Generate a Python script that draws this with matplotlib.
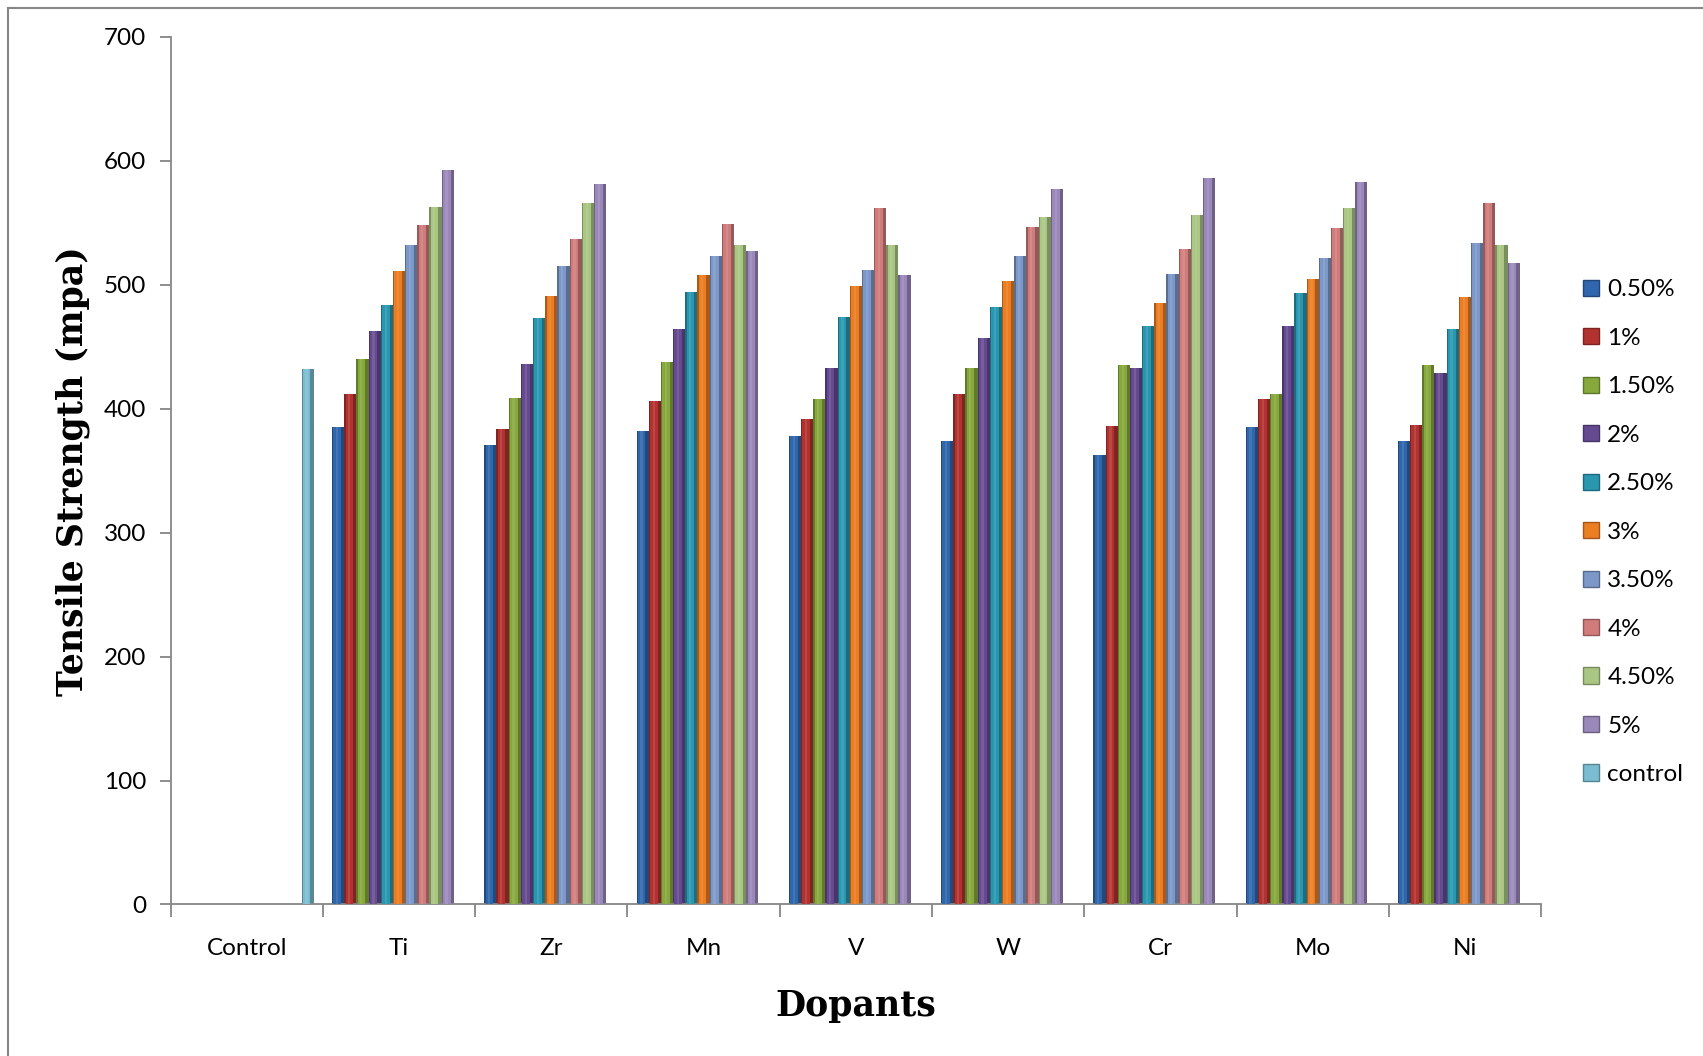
import numpy as np
import matplotlib
matplotlib.use("Agg")
import matplotlib.pyplot as plt
from matplotlib.lines import Line2D
from matplotlib.patches import Patch

categories = ["Control", "Ti", "Zr", "Mn", "V", "W", "Cr", "Mo", "Ni"]
series = ["0.50%", "1%", "1.50%", "2%", "2.50%", "3%", "3.50%", "4%", "4.50%", "5%", "control"]

# values per dopant, ordered 0.5% .. 5%
ti = [385, 412, 440, 463, 484, 511, 532, 548, 563, 593]
zr = [371, 384, 409, 436, 473, 491, 515, 537, 566, 581]
mn = [382, 406, 438, 464, 494, 508, 523, 549, 532, 527]
v = [378, 392, 408, 433, 474, 499, 512, 562, 532, 508]
w = [374, 412, 433, 457, 482, 503, 523, 547, 555, 577]
cr = [363, 386, 435, 433, 467, 485, 509, 529, 556, 586]
mo = [385, 408, 412, 467, 493, 505, 522, 546, 562, 583]
ni = [374, 387, 435, 429, 464, 490, 534, 566, 532, 518]
control_value = 432

colors = ["#2F66AC", "#B23230", "#86A83C", "#664A91", "#2A97B1", "#EB7D22",
          "#7C98C9", "#D07C7B", "#AAC683", "#9A88BA", "#7BBCD2"]


def shade(c, f):
    rgb = np.array(matplotlib.colors.to_rgb(c))
    if f < 1:
        return tuple(rgb * f)
    return tuple(rgb + (1 - rgb) * (f - 1))


dopant_rows = [ti, zr, mn, v, w, cr, mo, ni]
table = np.full((len(series), len(categories)), np.nan)
for i, row in enumerate(dopant_rows):
    for j, val in enumerate(row):
        table[j, i + 1] = val
table[10, 0] = control_value

fig = plt.figure(figsize=(17.03, 10.56), dpi=100)
ax = fig.add_axes([0.1002, 0.1435, 0.9049 - 0.1002, 0.965 - 0.1435])

bw = 0.08
x = np.arange(len(categories))
for j, name in enumerate(series):
    pos = x - 0.4 + j * bw
    vals = table[j]
    ax.bar(pos, vals, width=bw, color=shade(colors[j], 0.72),
           edgecolor="none", zorder=2)
    ax.bar(pos - bw * 0.08, vals, width=bw * 0.62, color=colors[j],
           edgecolor="none", zorder=3)
    ax.bar(pos - bw * 0.1, vals, width=bw * 0.18, color=shade(colors[j], 1.18),
           edgecolor="none", alpha=0.6, zorder=4)

ax.set_xlim(-0.5, len(categories) - 0.5)
ax.set_ylim(0, 700)
ax.set_yticks(np.arange(0, 701, 100))
ax.set_xticks(np.arange(-0.5, len(categories), 1.0))
ax.set_xticklabels([])
ax.set_xticks(x, minor=True)
ax.set_xticklabels(categories, minor=True)

gray = "#868686"
for s in ["top", "right"]:
    ax.spines[s].set_visible(False)
for s in ["left", "bottom"]:
    ax.spines[s].set_color(gray)
    ax.spines[s].set_linewidth(1.3)

ax.tick_params(axis="y", direction="out", length=8, width=1.3, color=gray,
               labelsize=17.5, pad=9.5)
ax.tick_params(axis="x", which="major", direction="out", length=9, width=1.3,
               color=gray)
ax.tick_params(axis="x", which="minor", length=0, labelsize=17.5, pad=24)
for lab in ax.get_yticklabels() + ax.get_xticklabels(minor=True):
    lab.set_family("Lato")

ax.set_ylabel("Tensile Strength (mpa)", family="DejaVu Serif", fontweight="bold",
              fontsize=25, labelpad=10)
ax.set_xlabel("Dopants", family="DejaVu Serif", fontweight="bold",
              fontsize=25, labelpad=22)

handles = [Patch(facecolor=c, edgecolor=shade(c, 0.7), linewidth=1) for c in colors]
leg = ax.legend(handles, series, loc="center left",
                bbox_to_anchor=(0.9295, 0.496), bbox_transform=fig.transFigure,
                frameon=False, borderaxespad=0, borderpad=0,
                handlelength=0.65, handleheight=0.65, handletextpad=0.35,
                labelspacing=1.13, prop={"family": "Lato", "size": 17.5})

# chart area border (top and left visible in the original crop)
fig.add_artist(Line2D([8 / 1703, 1], [1 - 8 / 1056, 1 - 8 / 1056],
                      transform=fig.transFigure, color=gray, lw=1.5))
fig.add_artist(Line2D([8 / 1703, 8 / 1703], [0, 1 - 8 / 1056],
                      transform=fig.transFigure, color=gray, lw=1.5))

fig.savefig("out.png", dpi=100)
